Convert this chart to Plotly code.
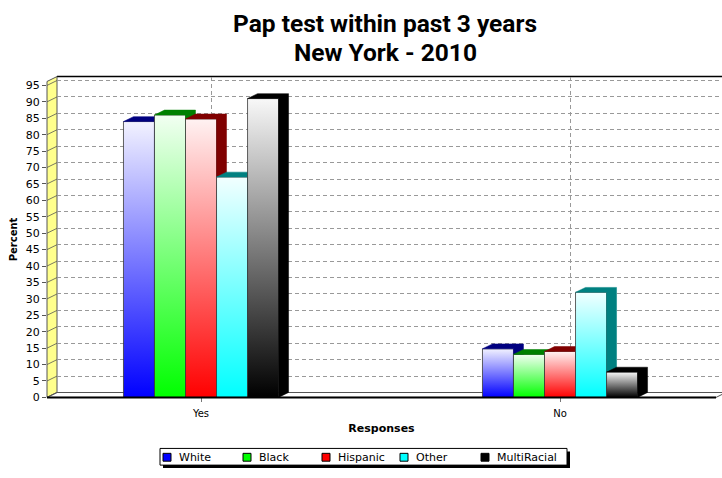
import plotly.graph_objects as go

# ---- data -------------------------------------------------------------
categories = ["Yes", "No"]
series = ["White", "Black", "Hispanic", "Other", "MultiRacial"]
white = [84.0, 14.8]
black = [86.0, 13.1]
hispanic = [84.8, 14.0]
other = [67.1, 32.0]
multiracial = [91.0, 7.7]
values = [white, black, hispanic, other, multiracial]
y_ticks = list(range(0, 100, 5))
title_lines = ["Pap test within past 3 years", "New York - 2010"]

# ---- styling ----------------------------------------------------------
base_colors = ["#0000FF", "#00FF00", "#FF0000", "#00FFFF", "#000000"]
top_colors = ["#F2F2FF", "#F2FFF2", "#FFF2F2", "#F2FFFF", "#F8F8F8"]
dark_colors = ["#000080", "#008000", "#800000", "#008080", "#000000"]

W, H = 722, 478
FRONT_L, FRONT_R, FRONT_B, FRONT_T = 47, 716, 403, 81   # front plane (px)
DEPTH_X, DEPTH_Y = 10, 5                                 # 3-D depth (px)
CAT_PX = 359                                             # px per category step
X_MIN = -0.429
Y_RANGE = [0, 96.2]
BAR_W = 0.0864
TITLE_FONT = dict(family="Roboto", size=24.5, color="#000000", weight="bold")


def px(x):
    return x / W


def py(y):
    return 1 - y / H


BL, BR = FRONT_L + DEPTH_X, min(FRONT_R + DEPTH_X, W)
BB, BT = FRONT_B - DEPTH_Y, FRONT_T - DEPTH_Y
X_RANGE_FRONT = [X_MIN, X_MIN + (FRONT_R - FRONT_L) / CAT_PX]
X_RANGE_BACK = [X_MIN, X_MIN + (BR - BL) / CAT_PX]

# depth offsets expressed in data units of the front axes
dx = DEPTH_X / CAT_PX
dy = DEPTH_Y * (Y_RANGE[1] - Y_RANGE[0]) / (FRONT_B - FRONT_T)

fig = go.Figure()

# empty trace so the back-wall subplot (grid only) gets drawn
fig.add_trace(go.Scatter(x=[None], y=[None], xaxis="x", yaxis="y", mode="lines",
                         showlegend=False, hoverinfo="skip"))

n = len(series)
for ci, cat in enumerate(categories):
    for si, name in enumerate(series):
        v = values[si][ci]
        xl = ci + (si - n / 2) * BAR_W
        xr = xl + BAR_W
        # front face with white-to-colour gradient
        fig.add_trace(go.Scatter(
            x=[xl, xr, xr, xl, xl], y=[0, 0, v, v, 0],
            mode="lines", fill="toself",
            fillgradient=dict(type="vertical",
                              colorscale=[[0, base_colors[si]], [1, top_colors[si]]]),
            line=dict(color="#3A3A3A", width=0.8),
            xaxis="x2", yaxis="y2", showlegend=False,
            name=name, text=f"{cat}: {v}", hoverinfo="name+text"))
        # side + top faces
        fig.add_trace(go.Scatter(
            x=[xl, xl + dx, xr + dx, xr + dx, xr, xr, xl],
            y=[v, v + dy, v + dy, dy, 0, v, v],
            mode="lines", fill="toself", fillcolor=dark_colors[si],
            line=dict(color=dark_colors[si], width=0.5),
            xaxis="x2", yaxis="y2", showlegend=False,
            name=name, hoverinfo="skip"))

# ---- walls, floor ----------------------------------------------------
shapes = []
shapes.append(dict(type="line", xref="paper", yref="paper",
                   x0=px(BL), x1=px(BR), y0=py(BT), y1=py(BT),
                   line=dict(color="#000000", width=1.5), layer="below"))
# left (yellow) wall
shapes.append(dict(type="path", xref="paper", yref="paper",
                   path=(f"M {px(FRONT_L)},{py(FRONT_B)} L {px(BL)},{py(BB)} "
                         f"L {px(BL)},{py(BT)} L {px(FRONT_L)},{py(FRONT_T)} Z"),
                   fillcolor="#FFFF8C", line=dict(color="#555555", width=1), layer="below"))
# floor
shapes.append(dict(type="path", xref="paper", yref="paper",
                   path=(f"M {px(FRONT_L)},{py(FRONT_B)} L {px(BL)},{py(BB)} "
                         f"L {px(FRONT_R + DEPTH_X)},{py(BB)} L {px(FRONT_R)},{py(FRONT_B)} Z"),
                   fillcolor="#FFFFFF", line=dict(color="#555555", width=1), layer="below"))
shapes.append(dict(type="line", xref="paper", yref="paper",
                   x0=px(FRONT_L), x1=px(FRONT_R), y0=py(FRONT_B), y1=py(FRONT_B),
                   line=dict(color="#000000", width=2), layer="above"))
# tick strokes across the side wall
for t in y_ticks:
    yy = FRONT_B - (t - Y_RANGE[0]) * (FRONT_B - FRONT_T) / (Y_RANGE[1] - Y_RANGE[0])
    shapes.append(dict(type="line", xref="paper", yref="paper",
                       x0=px(FRONT_L), x1=px(BL), y0=py(yy), y1=py(yy - DEPTH_Y),
                       line=dict(color="#555555", width=0.8), layer="below"))

# ---- legend box -------------------------------------------------------
LEG_L, LEG_R, LEG_T, LEG_B = 160, 567, 455, 472
shapes.append(dict(type="rect", xref="paper", yref="paper",
                   x0=px(LEG_L + 3), x1=px(LEG_R + 3), y0=py(LEG_B + 3), y1=py(LEG_T + 3),
                   fillcolor="#000000", line=dict(width=0)))
shapes.append(dict(type="rect", xref="paper", yref="paper",
                   x0=px(LEG_L), x1=px(LEG_R), y0=py(LEG_B), y1=py(LEG_T),
                   fillcolor="#FFFFFF", line=dict(color="#000000", width=1)))
annotations = []
leg_x = [163, 243, 322, 400, 481]
for si, name in enumerate(series):
    x0 = leg_x[si]
    shapes.append(dict(type="rect", xref="paper", yref="paper",
                       x0=px(x0), x1=px(x0 + 8), y0=py(468), y1=py(460),
                       fillcolor=base_colors[si], line=dict(color="#000000", width=1)))
    annotations.append(dict(text=name, xref="paper", yref="paper",
                            x=px(x0 + 14), y=py(464), xanchor="left", yanchor="middle",
                            showarrow=False,
                            font=dict(family="DejaVu Sans", size=11, color="#000000")))

# second title line
annotations.append(dict(text=title_lines[1], xref="paper", yref="paper",
                        x=px(385), y=py(51), xanchor="center", yanchor="middle",
                        showarrow=False, font=TITLE_FONT))

fig.update_layout(
    width=W, height=H, autosize=False,
    margin=dict(l=0, r=0, t=0, b=0),
    paper_bgcolor="#FFFFFF", plot_bgcolor="rgba(0,0,0,0)",
    showlegend=False,
    title=dict(text=title_lines[0],
               x=px(385), xanchor="center", y=py(22), yanchor="middle",
               xref="paper", yref="paper", font=TITLE_FONT),
    # back wall: grid only
    xaxis=dict(domain=[px(BL), px(BR)], range=X_RANGE_BACK, anchor="y",
               tickvals=[0, 1], showticklabels=False, ticks="",
               showgrid=True, griddash="4px,3px", gridcolor="#999999", gridwidth=1,
               zeroline=False, showline=False, fixedrange=True),
    yaxis=dict(domain=[py(BB), py(BT)], range=Y_RANGE, anchor="x",
               tickvals=y_ticks[1:], showticklabels=False, ticks="",
               showgrid=True, griddash="4px,3px", gridcolor="#999999", gridwidth=1,
               zeroline=False, showline=False, fixedrange=True),
    # front plane: bars, tick labels, axis titles
    xaxis2=dict(domain=[px(FRONT_L), px(FRONT_R)], range=X_RANGE_FRONT, anchor="y2",
                tickvals=[0, 1], ticktext=categories,
                ticks="outside", ticklen=4, tickcolor="#777777", ticklabelstandoff=3,
                tickfont=dict(family="DejaVu Sans", size=10, color="#000000"),
                showgrid=False, zeroline=False, showline=False, fixedrange=True,
                title=dict(text="<b>Responses</b>", standoff=5,
                           font=dict(family="DejaVu Sans", size=11, color="#000000"))),
    yaxis2=dict(domain=[py(FRONT_B), py(FRONT_T)], range=Y_RANGE, anchor="x2",
                tickvals=y_ticks, ticks="outside", ticklen=4, tickcolor="#555555",
                tickfont=dict(family="DejaVu Sans", size=11, color="#000000"),
                showgrid=False, zeroline=False, showline=False, fixedrange=True,
                title=dict(text="<b>Percent</b>", standoff=6,
                           font=dict(family="DejaVu Sans", size=10, color="#000000"))),
    shapes=shapes,
    annotations=annotations,
)

fig.write_html("out.html")
